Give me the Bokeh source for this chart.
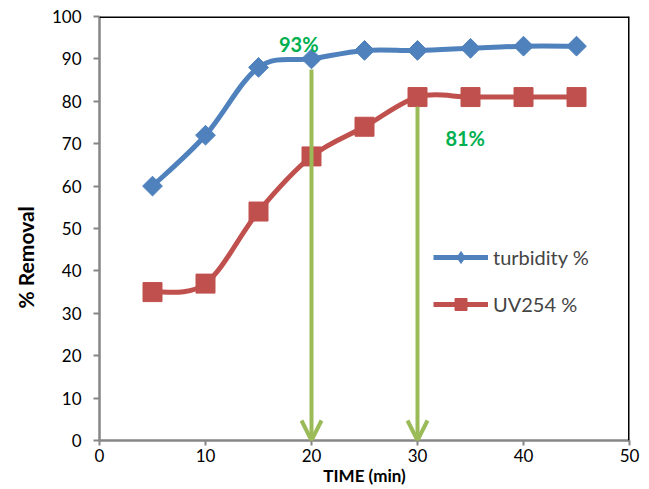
import numpy as np
from bokeh.plotting import figure
from bokeh.models import (ColumnDataSource, Range1d, Span, Arrow, OpenHead,
                          Legend, LegendItem, FixedTicker, Title)
from bokeh.core.properties import value
from bokeh.embed import file_html
from bokeh.resources import INLINE

# ---- data ----
time_min = [5, 10, 15, 20, 25, 30, 35, 40, 45]
turbidity = [60, 72, 88, 90, 92, 92, 92.5, 93, 93]
uv254 = [35, 37, 54, 67, 74, 81, 81, 81, 81]
x_ticks = [0, 10, 20, 30, 40, 50]
y_ticks = [0, 10, 20, 30, 40, 50, 60, 70, 80, 90, 100]
arrow_x = [20, 30]
arrow_top = [87.5, 78.7]
arrow_bottom = [0, 0]
ann_text = ["93%", "81%"]
ann_x = [18.8, 34.5]
ann_y = [93.4, 71.4]

BLUE = "#4F81BD"
RED = "#C0504D"
GREEN_ARROW = "#9BBB59"
GREEN_TEXT = "#00B050"
GREY = "#868686"
FONT = "Lato"


def smooth_segments(xs, ys):
    """Catmull-Rom style cubic Bezier segments through the data points."""
    x = np.asarray(xs, dtype=float)
    y = np.asarray(ys, dtype=float)
    n = len(x)
    px = np.concatenate([[x[0]], x, [x[-1]]])
    py = np.concatenate([[y[0]], y, [y[-1]]])
    d = dict(x0=[], y0=[], x1=[], y1=[], cx0=[], cy0=[], cx1=[], cy1=[])
    for i in range(n - 1):
        j = i + 1
        d["x0"].append(x[i]); d["y0"].append(y[i])
        d["x1"].append(x[i + 1]); d["y1"].append(y[i + 1])
        d["cx0"].append(x[i] + (px[j + 1] - px[j - 1]) / 6)
        d["cy0"].append(y[i] + (py[j + 1] - py[j - 1]) / 6)
        d["cx1"].append(x[i + 1] - (px[j + 2] - px[j]) / 6)
        d["cy1"].append(y[i + 1] - (py[j + 2] - py[j]) / 6)
    return ColumnDataSource(d)


p = figure(width=649, height=489, x_range=Range1d(0, 50), y_range=Range1d(0, 100),
           output_backend="svg", toolbar_location=None,
           min_border_left=98, min_border_right=20, min_border_top=16, min_border_bottom=49)
p.outline_line_color = None
p.xgrid.grid_line_color = None
p.ygrid.grid_line_color = None
p.background_fill_color = "white"

for ax in (p.xaxis[0], p.yaxis[0]):
    ax.axis_line_color = GREY
    ax.axis_line_width = 2.5
    ax.major_tick_line_color = GREY
    ax.major_tick_line_width = 2
    ax.major_tick_out = 6
    ax.major_tick_in = 0
    ax.minor_tick_line_color = None
    ax.major_label_text_font = FONT
    ax.major_label_text_font_size = "17px"
    ax.major_label_text_color = "black"
    ax.axis_label_text_font = FONT
    ax.axis_label_text_font_style = "bold"
    ax.axis_label_text_color = "black"

p.xaxis[0].ticker = FixedTicker(ticks=x_ticks)
p.yaxis[0].ticker = FixedTicker(ticks=y_ticks)
p.xaxis[0].axis_label = "TIME (min)"
p.xaxis[0].axis_label_text_font_size = "17px"
p.xaxis[0].major_tick_out = 5
p.xaxis[0].major_label_standoff = 3
p.xaxis[0].axis_label_standoff = 0
p.yaxis[0].major_label_standoff = 12

# y-axis title placed as a side title so it can sit below the frame centre
ytitle = Title(text="% Removal", align="left", offset=132, standoff=21,
               text_font=FONT, text_font_style="bold", text_font_size="21px",
               text_color="black")
p.add_layout(ytitle, "left")

# top/right frame borders
p.add_layout(Span(location=100, dimension="width", line_color="black", line_width=3))
p.add_layout(Span(location=50, dimension="height", line_color="black", line_width=3))

# smoothed series lines
p.bezier(x0="x0", y0="y0", x1="x1", y1="y1", cx0="cx0", cy0="cy0", cx1="cx1", cy1="cy1",
         source=smooth_segments(time_min, turbidity), line_color=BLUE, line_width=5,
         line_cap="round")
p.bezier(x0="x0", y0="y0", x1="x1", y1="y1", cx0="cx0", cy0="cy0", cx1="cx1", cy1="cy1",
         source=smooth_segments(time_min, uv254), line_color=RED, line_width=5,
         line_cap="round")

# markers
p.scatter(time_min, turbidity, marker="square", angle=np.pi / 4, size=14,
          fill_color=BLUE, line_color=BLUE)
p.scatter(time_min, uv254, marker="square", size=19, fill_color=RED, line_color=RED)

# legend-only renderers (hidden)
t_leg_line = p.line(time_min, turbidity, line_color=BLUE, line_width=5, visible=False)
t_leg_mark = p.scatter(time_min, turbidity, marker="diamond", size=12,
                       fill_color=BLUE, line_color=BLUE, visible=False)
u_leg_line = p.line(time_min, uv254, line_color=RED, line_width=5, visible=False)
u_leg_mark = p.scatter(time_min, uv254, marker="square", size=12,
                       fill_color=RED, line_color=RED, visible=False)

# arrows
arrow_src = ColumnDataSource(dict(x=arrow_x, top=arrow_top, bottom=arrow_bottom))
p.add_layout(Arrow(end=OpenHead(size=20, line_color=GREEN_ARROW, line_width=4),
                   x_start="x", y_start="top", x_end="x", y_end="bottom",
                   source=arrow_src, line_color=GREEN_ARROW, line_width=4))

# annotations
p.text(x=ann_x, y=ann_y, text=ann_text, text_color=GREEN_TEXT, text_font=value(FONT),
       text_font_style="bold", text_font_size="20px", text_align="center",
       text_baseline="middle")

legend = Legend(items=[LegendItem(label="turbidity %", renderers=[t_leg_line, t_leg_mark]),
                       LegendItem(label="UV254 %", renderers=[u_leg_line, u_leg_mark])],
                location=(334, 121), orientation="vertical", glyph_width=55,
                glyph_height=30, label_height=30, spacing=17, padding=0, margin=0,
                border_line_color=None, background_fill_alpha=0,
                label_text_font=FONT, label_text_font_size="20px", label_standoff=5)
p.add_layout(legend)

open("out.html", "w").write(file_html(p, INLINE))
